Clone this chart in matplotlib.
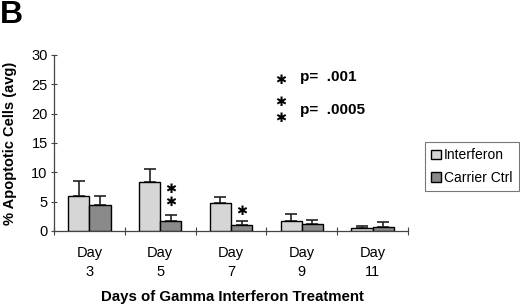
import matplotlib
matplotlib.use("Agg")
import matplotlib.pyplot as plt
import numpy as np

plt.rcParams['font.family'] = ['Liberation Sans', 'DejaVu Sans']

categories = ["Day\n3", "Day\n5", "Day\n7", "Day\n9", "Day\n11"]
interferon = [5.9, 8.3, 4.8, 1.7, 0.45]
interferon_err = [2.7, 2.3, 1.0, 1.2, 0.45]
carrier = [4.5, 1.75, 1.0, 1.25, 0.6]
carrier_err = [1.4, 1.05, 0.7, 0.65, 1.0]
yticks = [0, 5, 10, 15, 20, 25, 30]

fig = plt.figure(figsize=(5.2, 3.06), dpi=100)
ax = fig.add_axes([54/520, 1-231/306, (408-54)/520, (231-55)/306])

x = np.arange(len(categories)) + 0.5
w = 0.3
light = '#d6d6d6'
dark = '#8a8a8a'
ax.bar(x - w/2, interferon, w, color=light, edgecolor='black', linewidth=1, label='Interferon', zorder=3)
ax.bar(x + w/2, carrier, w, color=dark, edgecolor='black', linewidth=1, label='Carrier Ctrl', zorder=3)
ax.errorbar(x - w/2, interferon, yerr=[np.zeros(5), interferon_err], fmt='none', ecolor='#222222',
            elinewidth=1.2, capsize=4, capthick=1.2, zorder=2)
ax.errorbar(x + w/2, carrier, yerr=[np.zeros(5), carrier_err], fmt='none', ecolor='#222222',
            elinewidth=1.2, capsize=4, capthick=1.2, zorder=2)

ax.set_xlim(0, 5)
ax.set_ylim(0, 30)
ax.set_yticks(yticks)
ax.set_xticks(np.arange(0, 6), minor=True)
ax.set_xticks(x)
ax.set_xticklabels(categories, fontsize=10.5, linespacing=1.4)
ax.tick_params(axis='x', which='major', length=0, pad=11)
ax.tick_params(axis='x', which='minor', length=6, direction='inout', color='#444444', width=0.8)
ax.tick_params(axis='y', length=5, direction='inout', color='#444444', width=0.8, labelsize=10.5, pad=2)
for s in ['top', 'right']:
    ax.spines[s].set_visible(False)
for s in ['left', 'bottom']:
    ax.spines[s].set_color('#444444')
    ax.spines[s].set_linewidth(0.9)

fig.text(10/520, 1-143/306, '% Apoptotic Cells (avg)', fontsize=10.5, fontweight='bold',
         rotation=90, ha='center', va='center')
fig.text(232/520, 1-297/306, 'Days of Gamma Interferon Treatment', fontsize=10.8, fontweight='bold',
         ha='center', va='center')
fig.text(0.0, 1.0, 'B', fontsize=23, fontweight='bold', ha='left', va='top')

star = dict(fontsize=9.5, ha='center', va='center', family='DejaVu Sans')

# significance stars
ax.text(1.5 + w/2, 7.0, '\u2731', **star)
ax.text(1.5 + w/2, 4.8, '\u2731', **star)
ax.text(2.5 + w/2, 3.3, '\u2731', **star)

# p-value key
fig.text(281/520, 1-80/306, '\u2731', **star)
fig.text(300/520, 1-77/306, 'p=  .001', fontsize=11, fontweight='bold', ha='left', va='center')
fig.text(281/520, 1-103/306, '\u2731', **star)
fig.text(281/520, 1-118/306, '\u2731', **star)
fig.text(300/520, 1-110/306, 'p=  .0005', fontsize=11, fontweight='bold', ha='left', va='center')

leg = fig.legend(loc='upper left', bbox_to_anchor=(425/520, 1-142/306), fontsize=10,
                 frameon=True, fancybox=False, edgecolor='#555555', handlelength=0.7,
                 handleheight=0.7, handletextpad=0.2, borderpad=0.45, labelspacing=0.6,
                 borderaxespad=0)
leg.get_frame().set_linewidth(0.8)

fig.savefig('out.png', dpi=100)
